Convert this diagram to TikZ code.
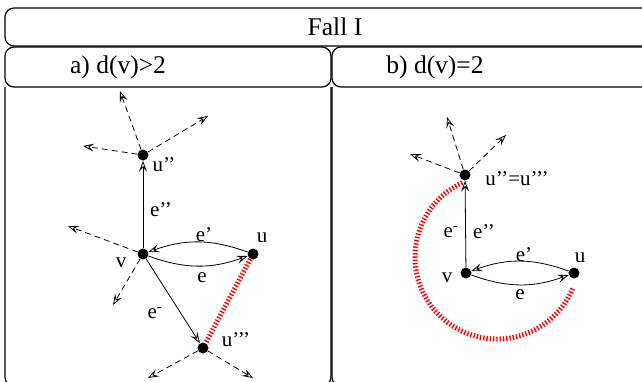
\documentclass[tikz,border=0pt]{standalone}
\usepackage{fontspec}
\setmainfont{Liberation Serif}
\usetikzlibrary{arrows.meta}
\begin{document}
\begin{tikzpicture}[x=1pt,y=1pt,
  box/.style={draw,line width=1.2pt,rounded corners=9pt},
  dot/.style={circle,fill,inner sep=0pt,minimum size=11pt},
  lbl/.style={inner sep=0pt,font=\fontsize{21}{23}\selectfont},
  hdr/.style={inner sep=0pt,font=\fontsize{25.5}{28}\selectfont},
  edgearrow/.style={line width=0.8pt,-{Stealth[open,length=11pt,width=8pt,inset=4.5pt]}},
  dasharrow/.style={edgearrow,dash pattern=on 6pt off 4pt},
  stripes/.style={red,line width=5pt,dash pattern=on 1.4pt off 1.9pt},
]
\useasboundingbox (0,0) rectangle (642,-381);
\begin{scope}
\clip (0,0) rectangle (642,-381);
\draw[box] (5,-8) rectangle (660,-46);
\draw[box] (5,-47) rectangle (331,-87);
\draw[box] (332,-47) rectangle (660,-87);
\draw[box] (5,-87) -- (5,-386) -- (331,-386) -- (331,-87);
\draw[box] (332,-87) -- (332,-386) -- (660,-386);
\end{scope}
\node[hdr] (title) at (335,-27) {Fall I};
\node[hdr] (ha) at (118,-67) {a) d(v)>2};
\node[hdr] (hb) at (435,-67) {b) d(v)=2};

% left panel
\node[dot] (uu2) at (143,-155) {};
\node[dot] (v) at (143,-254) {};
\node[dot] (u) at (253,-254) {};
\node[dot] (u3) at (203,-348) {};
\coordinate (a1) at (120,-91);
\coordinate (a2) at (208,-116);
\coordinate (a3) at (83,-146);
\coordinate (a4) at (68,-226);
\coordinate (a5) at (113,-305);
\coordinate (a6) at (148,-378);
\coordinate (a7) at (253,-378);
\draw[edgearrow] (v) -- (uu2);
\draw[edgearrow] (u) to[bend right=20] (v);
\draw[edgearrow] (v) to[bend right=20] (u);
\draw[edgearrow] (v) -- (u3);
\draw[stripes] (u) -- (u3);
\foreach \t in {a1,a2,a3} \draw[dasharrow] (uu2) -- (\t);
\foreach \t in {a4,a5} \draw[dasharrow] (v) -- (\t);
\foreach \t in {a6,a7} \draw[dasharrow] (u3) -- (\t);
\node[lbl] (luu2) at (164,-165) {u'{}'};
\node[lbl] (le2) at (161,-210) {e'{}'};
\node[lbl] (le1) at (204,-235) {e'};
\node[lbl] (lu) at (262,-238) {u};
\node[lbl] (lv) at (121,-263) {v};
\node[lbl] (le) at (202,-278) {e};
\node[lbl] (lem) at (155,-313) {e\textsuperscript{-}};
\node[lbl] (lu3) at (236,-340) {u'{}'{}'};

% right panel
\node[dot] (top) at (465,-175) {};
\node[dot] (rv) at (466,-273) {};
\node[dot] (ru) at (574,-273) {};
\coordinate (b1) at (447,-117);
\coordinate (b2) at (506,-135);
\coordinate (b3) at (410,-154);
\coordinate (c) at (497,-257);
\draw[edgearrow] (rv) -- (top);
\draw[edgearrow] (ru) to[bend right=20] (rv);
\draw[edgearrow] (rv) to[bend right=20] (ru);
\foreach \t in {b1,b2,b3} \draw[dasharrow] (top) -- (\t);
\draw[stripes] ([shift={(115:82)}]c) arc[start angle=115,end angle=338,radius=82];
\node[lbl] (rtop) at (517,-179) {u'{}'=u'{}'{}'};
\node[lbl] (rem) at (451,-232) {e\textsuperscript{-}};
\node[lbl] (re2) at (484,-232) {e'{}'};
\node[lbl] (re1) at (524,-255) {e'};
\node[lbl] (ru1) at (580,-258) {u};
\node[lbl] (rvl) at (447,-278) {v};
\node[lbl] (re) at (520,-295) {e};
\end{tikzpicture}
\end{document}
